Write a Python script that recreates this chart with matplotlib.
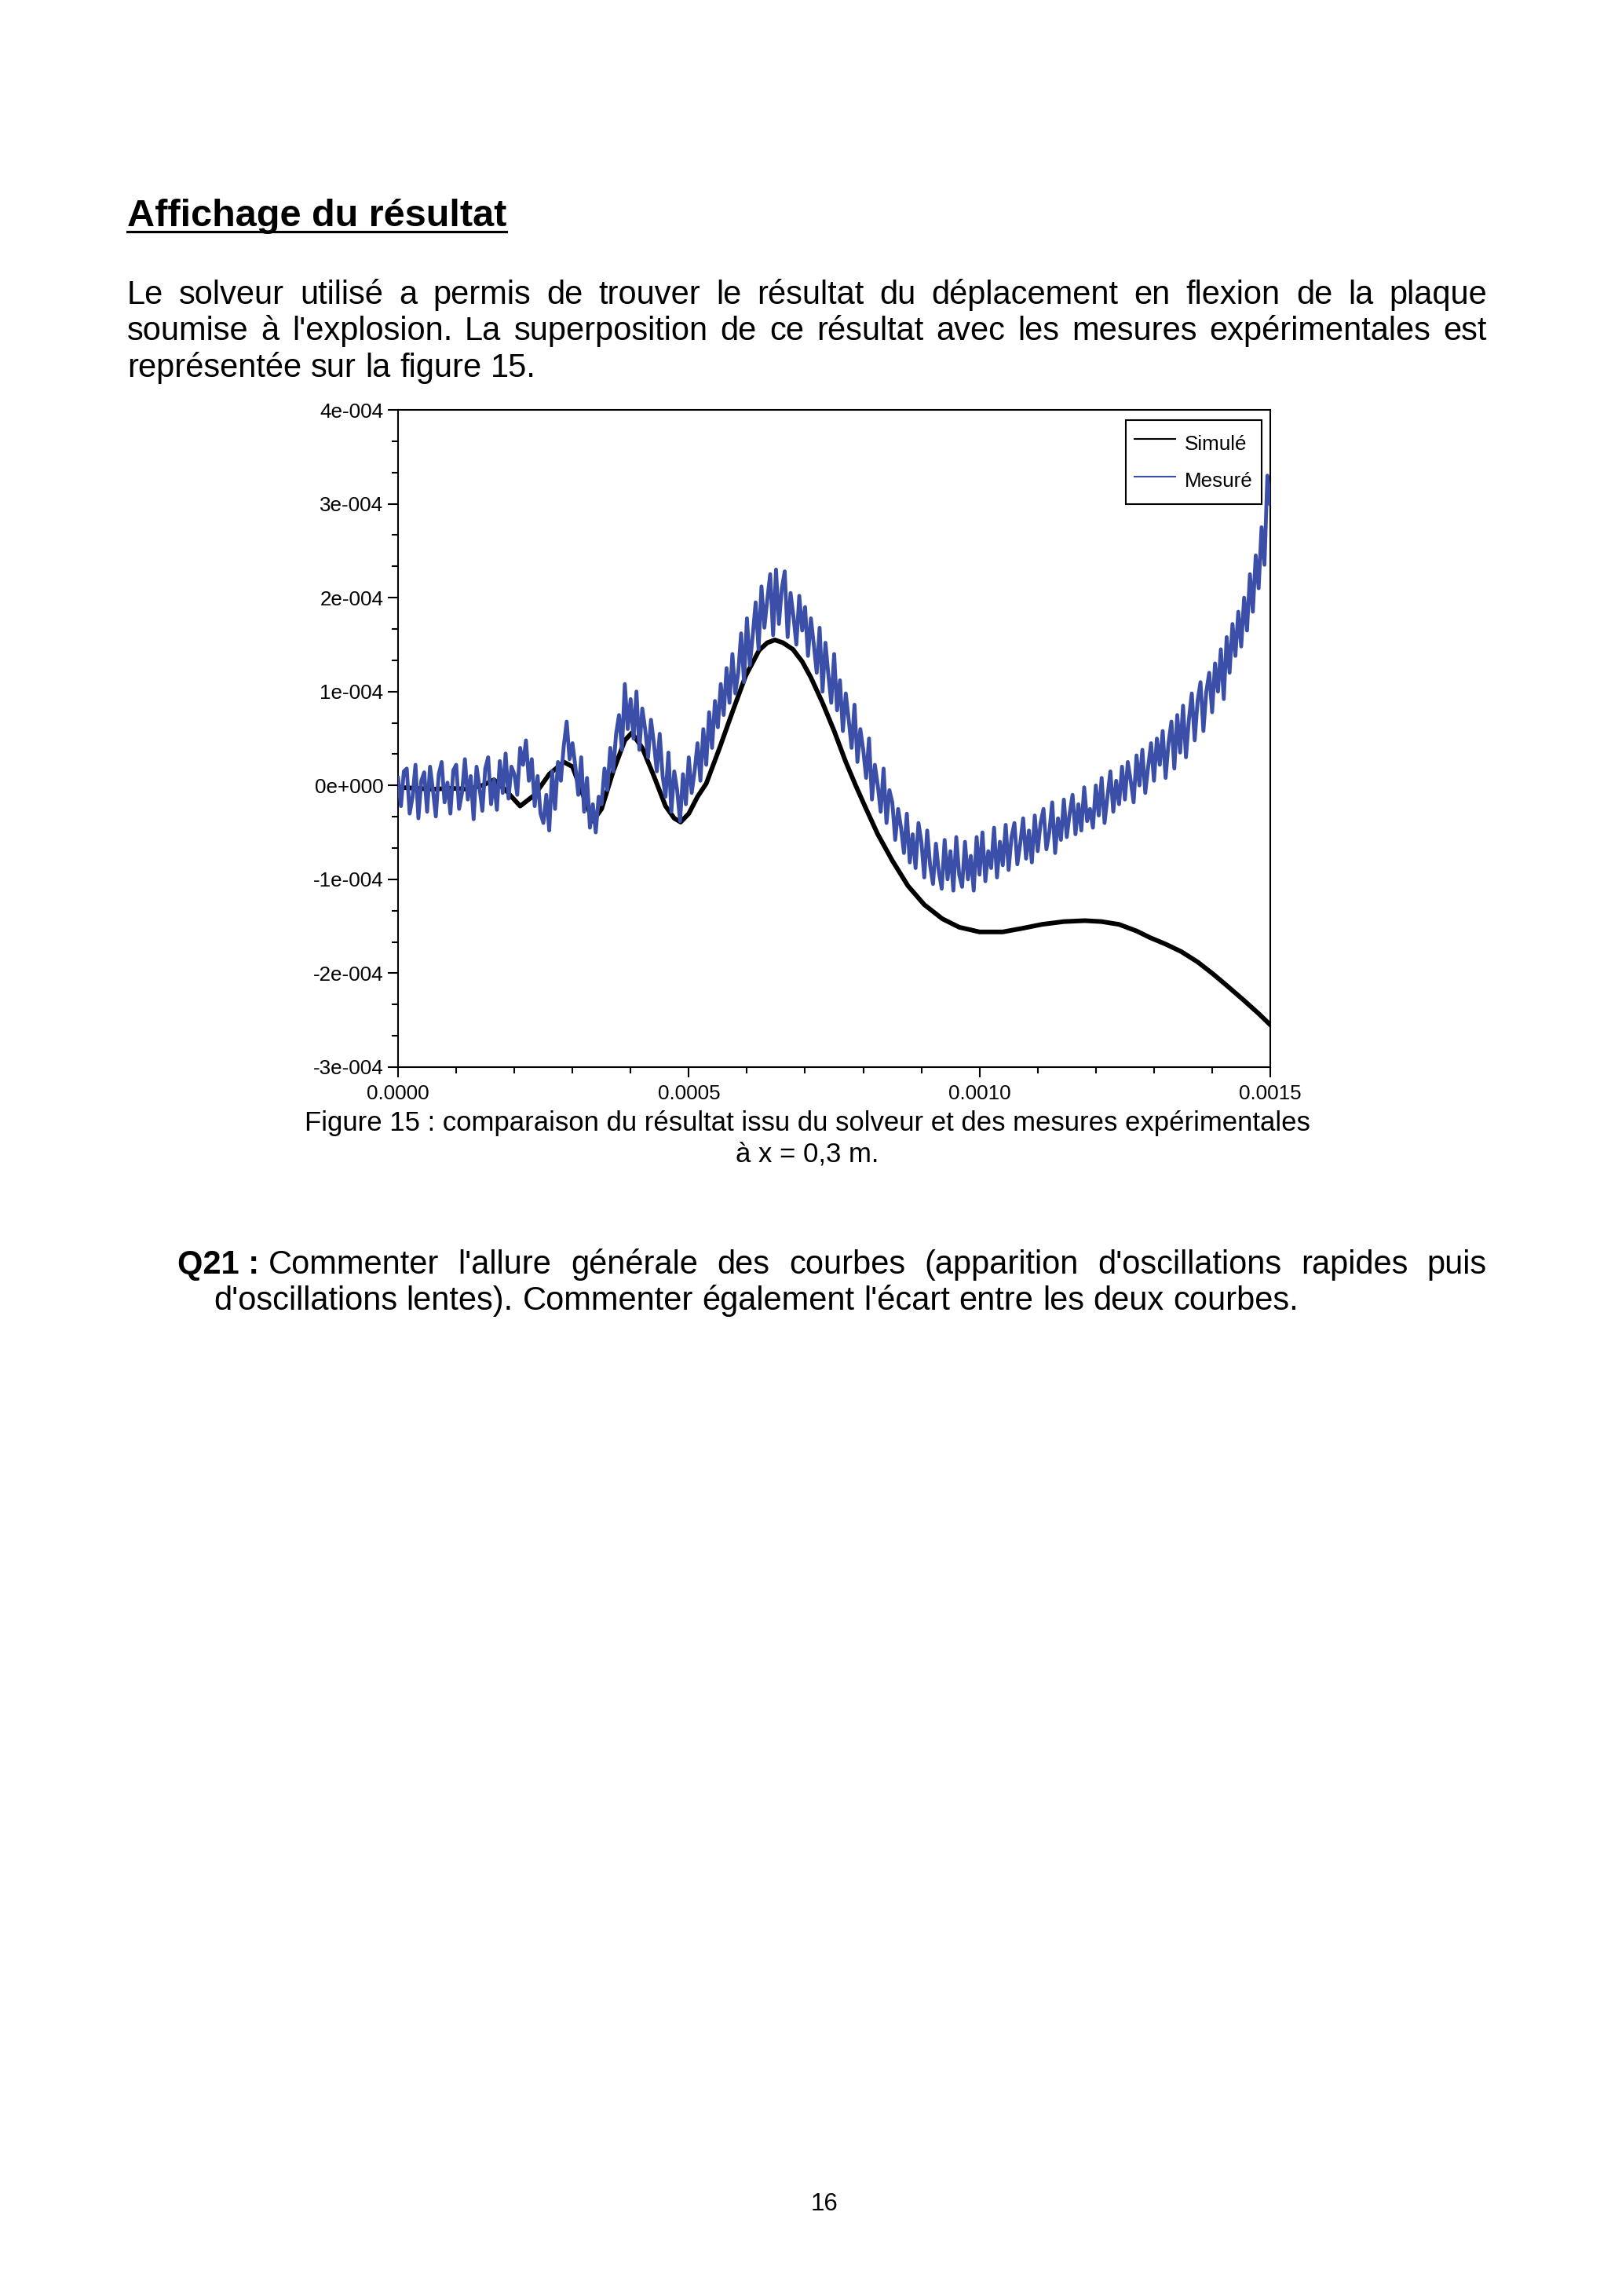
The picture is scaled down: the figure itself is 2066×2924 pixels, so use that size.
import matplotlib
matplotlib.use('Agg')
import matplotlib.pyplot as plt
import numpy as np
from matplotlib import ticker
from matplotlib.lines import Line2D

W, H = 2066, 2924
DPI = 250
BLUE = '#3b4fa8'

plt.rc('font', family=['Liberation Sans', 'DejaVu Sans'])

# simulated displacement: time in ms, displacement in 1e-4 m
SIM_T_MS = [0.000, 0.030, 0.060, 0.090, 0.120, 0.145, 0.165, 0.185, 0.210, 0.235,
            0.260, 0.285, 0.300, 0.315, 0.335, 0.350, 0.370, 0.390, 0.402, 0.420,
            0.440, 0.460, 0.475, 0.486, 0.500, 0.515, 0.530, 0.553, 0.576, 0.598,
            0.621, 0.635, 0.648, 0.662, 0.679, 0.695, 0.710, 0.730, 0.750, 0.770,
            0.787, 0.805, 0.825, 0.850, 0.877, 0.905, 0.936, 0.965, 1.000, 1.040,
            1.075, 1.107, 1.145, 1.181, 1.210, 1.240, 1.270, 1.293, 1.320, 1.347,
            1.375, 1.400, 1.425, 1.453, 1.480, 1.500]
SIM_DISP = [-0.02, -0.03, -0.04, -0.03, -0.04, 0.00, 0.06, -0.05, -0.22, -0.10,
            0.12, 0.25, 0.20, -0.05, -0.38, -0.25, 0.15, 0.48, 0.56, 0.40,
            0.10, -0.22, -0.35, -0.39, -0.30, -0.12, 0.02, 0.40, 0.80, 1.17,
            1.44, 1.52, 1.55, 1.52, 1.45, 1.32, 1.15, 0.88, 0.58, 0.25,
            0.00, -0.25, -0.52, -0.80, -1.07, -1.27, -1.42, -1.51, -1.56, -1.56,
            -1.52, -1.48, -1.45, -1.44, -1.45, -1.48, -1.55, -1.62, -1.69, -1.77,
            -1.88, -2.00, -2.13, -2.28, -2.43, -2.55]

# measured displacement: one sample every 0.005 ms, values in 1e-6 m
MES_STEP_MS = 0.005
MES_DISP = [
    8, -22, 15, 18, -30, -12, 22, -35, 5, 14,
    -28, 20, -5, -33, 12, 25, -18, 3, -30, 16,
    22, -25, -8, 28, -15, 10, -36, 20, -2, -27,
    18, 30, -20, 6, -26, 26, -8, 34, -14, 20,
    12, -10, 40, 22, 48, 5, 28, -22, 10, -30,
    -40, -10, -48, 15, -25, 25, 5, 42, 68, 28,
    45, 20, -10, 30, -28, 8, -45, -20, -50, -12,
    -20, 18, -5, 40, 15, 55, 75, 38, 108, 60,
    92, 50, 100, 38, 82, 60, 30, 70, 45, 15,
    55, 10, -12, 35, -28, 15, -5, -38, 12, -20,
    30, -8, 15, 45, 5, 60, 22, 78, 40, 90,
    62, 108, 75, 125, 88, 140, 98, 120, 162, 110,
    178, 128, 160, 195, 145, 212, 168, 198, 225, 160,
    230, 172, 210, 228, 158, 205, 180, 150, 202, 165,
    190, 138, 178, 150, 120, 168, 100, 152, 118, 88,
    140, 80, 112, 58, 98, 70, 40, 86, 25, 60,
    38, 8, 50, -15, 22, 0, -28, 18, -40, -5,
    -18, -58, -25, -45, -72, -30, -82, -52, -88, -40,
    -60, -98, -48, -85, -105, -62, -92, -110, -58, -100,
    -70, -112, -55, -95, -108, -60, -100, -75, -112, -55,
    -95, -50, -102, -70, -88, -45, -98, -60, -85, -42,
    -90, -55, -40, -84, -62, -35, -78, -48, -82, -32,
    -70, -40, -25, -68, -50, -18, -72, -35, -58, -15,
    -55, -30, -10, -52, -20, -48, -2, -38, -25, -45,
    0, -32, 8, -40, -12, 15, -28, 5, -20, 20,
    -15, 25, 5, -18, 32, 0, 38, -8, 20, 45,
    5, 50, 22, 58, 8, 45, 68, 18, 75, 35,
    85, 30, 70, 98, 48, 90, 110, 58, 100, 120,
    78, 130, 100, 145, 92, 158, 120, 172, 138, 185,
    148, 200, 165, 225, 185, 245, 210, 275, 235, 330,
    300]

X_TICKS = [0.0, 0.0005, 0.0010, 0.0015]
X_TICK_LABELS = ['0.0000', '0.0005', '0.0010', '0.0015']
Y_TICKS = [-3e-4, -2e-4, -1e-4, 0.0, 1e-4, 2e-4, 3e-4, 4e-4]
Y_TICK_LABELS = ['-3e-004', '-2e-004', '-1e-004', '0e+000',
                 '1e-004', '2e-004', '3e-004', '4e-004']
LEGEND_LABELS = ['Simulé', 'Mesuré']

TITLE = 'Affichage du résultat'
BODY = ['Le solveur utilisé a permis de trouver le résultat du déplacement en flexion de la plaque',
        "soumise à l'explosion. La superposition de ce résultat avec les mesures expérimentales est",
        'représentée sur la figure 15.']
CAPTION = ['Figure 15 : comparaison du résultat issu du solveur et des mesures expérimentales',
           'à x = 0,3 m.']
Q_LABEL = 'Q21 :'
QUESTION = ["Commenter l'allure générale des courbes (apparition d'oscillations rapides puis",
            "d'oscillations lentes). Commenter également l'écart entre les deux courbes."]


def fx(px):
    return px / W


def fy(py):
    return 1 - py / H


fig = plt.figure(figsize=(W / DPI, H / DPI), dpi=DPI)
renderer = fig.canvas.get_renderer()


def place_line(tokens, x0, x1, y, size, justify=True):
    # tokens: list of (word, weight); words spread between x0 and x1 when justified
    texts = [fig.text(0, fy(y), w, fontsize=size, fontweight=wt, va='baseline', ha='left')
             for w, wt in tokens]
    widths = [t.get_window_extent(renderer).width for t in texts]
    if justify and len(texts) > 1:
        gap = (x1 - x0 - sum(widths)) / (len(texts) - 1)
    else:
        gap = 0.278 * size * DPI / 72
    x = x0
    for t, w in zip(texts, widths):
        t.set_x(fx(x))
        x += w + gap
    return x


# heading, underlined
title = fig.text(fx(162), fy(288), TITLE, fontsize=14, fontweight='bold', va='baseline')
tw = title.get_window_extent(renderer).width
fig.add_artist(Line2D([fx(162), fx(162 + tw)], [fy(295), fy(295)], color='black', lw=0.9))

body_y = [387, 433, 480]
for i, line in enumerate(BODY):
    toks = [(w, 'normal') for w in line.split()]
    place_line(toks, 162, 1894, body_y[i], 12, justify=(i < len(BODY) - 1))

# chart
ax = fig.add_axes([fx(507), fy(1359), (1618 - 507) / W, (1359 - 522) / H])
sim_t = np.array(SIM_T_MS) * 1e-3
sim_v = np.array(SIM_DISP) * 1e-4
mes_t = np.arange(len(MES_DISP)) * MES_STEP_MS * 1e-3
mes_v = np.array(MES_DISP) * 1e-6

ax.plot(sim_t, sim_v, color='black', lw=1.7, label=LEGEND_LABELS[0], zorder=2)
ax.plot(mes_t, mes_v, color=BLUE, lw=1.4, label=LEGEND_LABELS[1], zorder=3)

ax.set_xlim(0, 0.0015)
ax.set_ylim(-3e-4, 4e-4)
ax.set_xticks(X_TICKS, X_TICK_LABELS)
ax.set_yticks(Y_TICKS, Y_TICK_LABELS)
ax.xaxis.set_minor_locator(ticker.MultipleLocator(1e-4))
ax.yaxis.set_minor_locator(ticker.MultipleLocator(1e-4 / 3))
ax.tick_params(which='both', direction='out', width=0.6, labelsize=7.5, colors='black')
ax.tick_params(which='major', length=3.8)
ax.tick_params(which='minor', length=2.2)
ax.tick_params(axis='x', pad=2.5)
ax.tick_params(axis='y', pad=1.5)
for s in ax.spines.values():
    s.set_linewidth(0.6)

leg = ax.legend(loc='upper right', bbox_to_anchor=(0.990, 0.985), fontsize=7.5,
                fancybox=False, framealpha=1, edgecolor='black', handlelength=2.0,
                handleheight=1.87, handletextpad=0.45, borderpad=0.43,
                labelspacing=0.35, borderaxespad=0)
leg.get_frame().set_linewidth(0.6)
for ln in leg.get_lines():
    ln.set_linewidth(0.6)

# caption
fig.text(fx(1028), fy(1440), CAPTION[0], fontsize=10, ha='center', va='baseline')
fig.text(fx(1028), fy(1480), CAPTION[1], fontsize=10, ha='center', va='baseline')

# question: bold label, one normal space, then the justified rest of the line
x_after = place_line([(Q_LABEL, 'bold')], 226, 1894, 1622, 12, justify=False)
place_line([(w, 'normal') for w in QUESTION[0].split()], x_after, 1894, 1622, 12, justify=True)
place_line([(w, 'normal') for w in QUESTION[1].split()], 272, 1894, 1668, 12, justify=False)

fig.text(fx(1050), fy(2815), '16', fontsize=9, ha='center', va='baseline')

fig.savefig('out.png', dpi=DPI)
